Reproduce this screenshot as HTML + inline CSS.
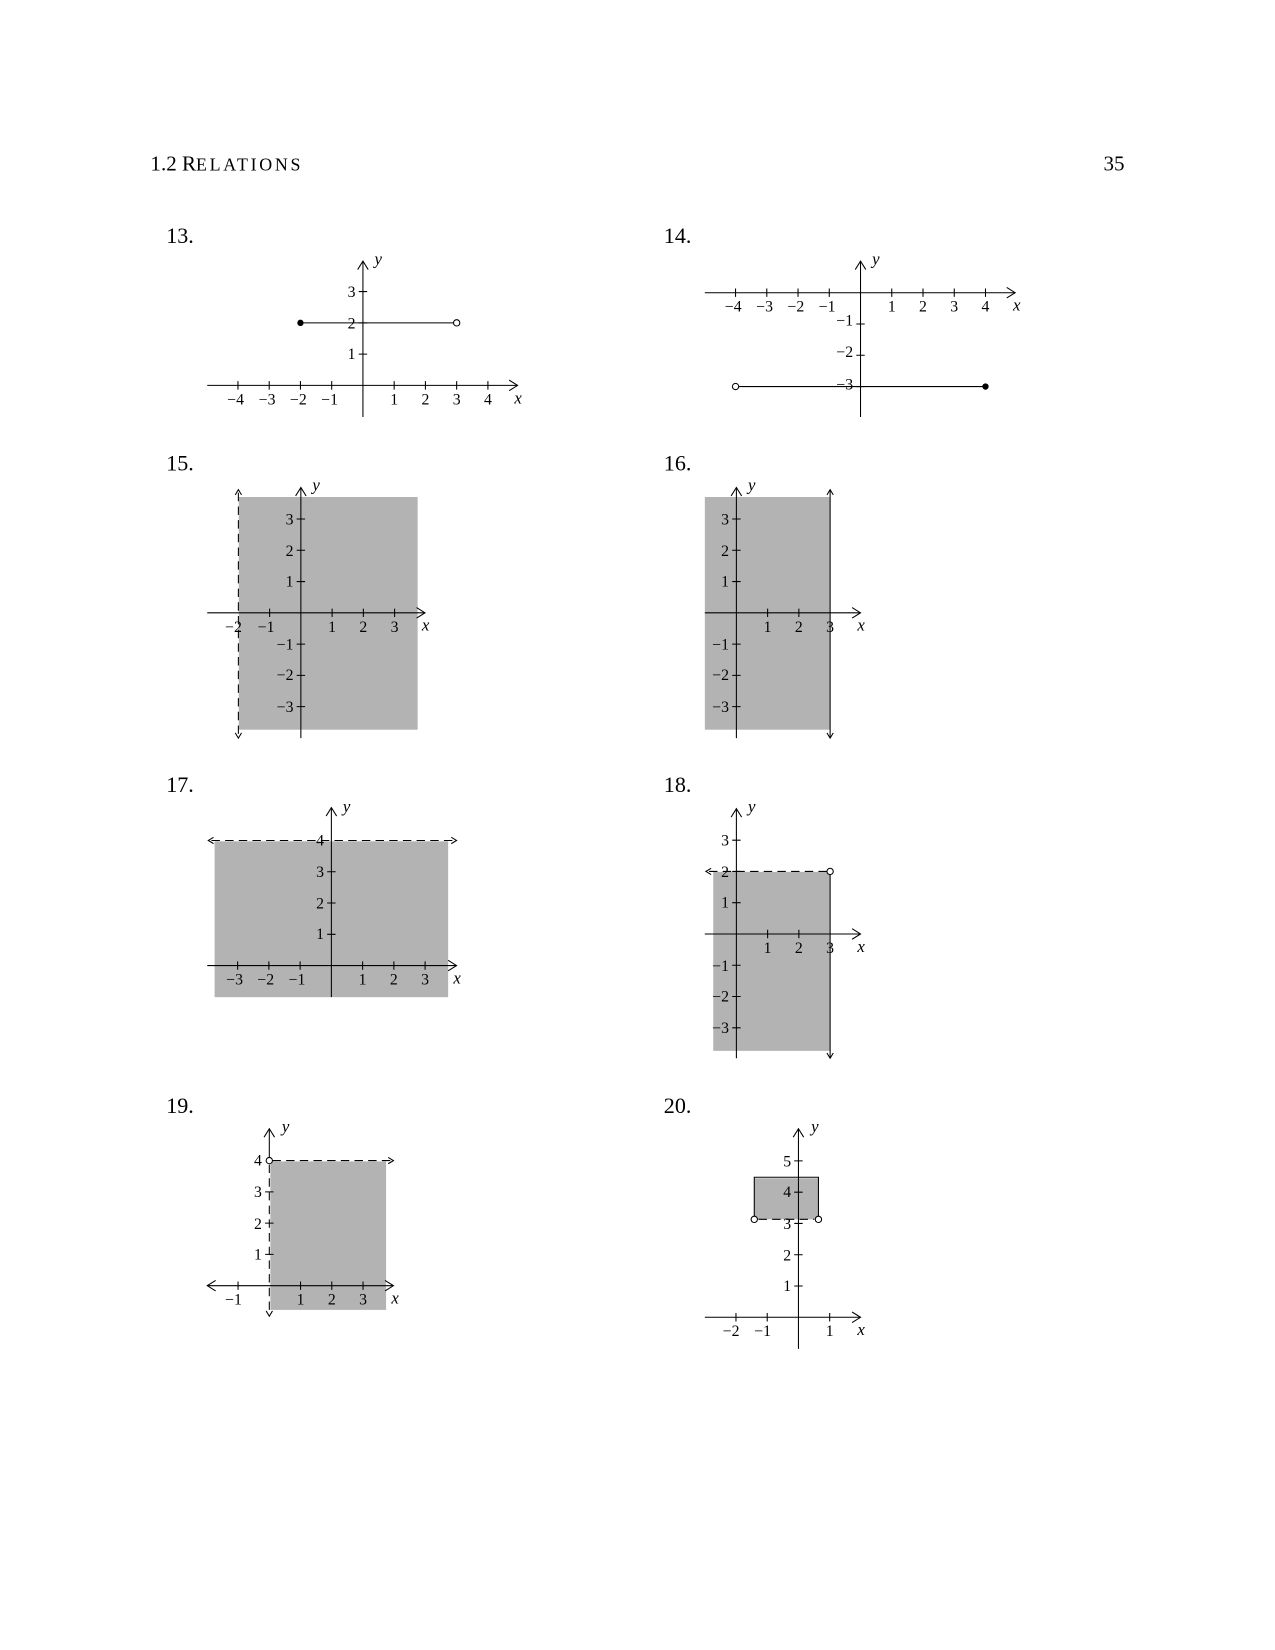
<!DOCTYPE html>
<html><head><meta charset="utf-8"><style>
html,body{margin:0;padding:0;background:#fff}
svg{display:block}
text{font-family:"Liberation Serif",serif;fill:#000}
.tx{font-size:15px;text-anchor:middle}
.ty{font-size:15px;text-anchor:end}
.v{font-size:16px;font-style:italic}
.n{font-size:21px}
.ax{stroke:#000;stroke-width:1;fill:none}
.ah{stroke:#000;stroke-width:1;fill:none}
.dash{stroke:#000;stroke-width:1;stroke-dasharray:8,5;fill:none}
.sh{fill:#b3b3b3}
</style></head><body>
<svg width="1275" height="1650" viewBox="0 0 1212 1567" preserveAspectRatio="none" xmlns="http://www.w3.org/2000/svg">
<text x="143" y="162" style="font-size:20px">1.2 R<tspan style="font-size:17px;letter-spacing:2.6px">ELATIONS</tspan></text>
<text x="1069" y="162" text-anchor="end" style="font-size:20px">35</text>

<!-- 13 -->
<text class="n" x="158" y="231">13.</text>
<g>
<line class="ax" x1="197" y1="366" x2="492" y2="366"/><polyline class="ah" points="484,361 492,366 484,371"/>
<line class="ax" x1="345" y1="396" x2="345" y2="248"/><polyline class="ah" points="340,256 345,248 350,256"/>
<text class="v" x="489" y="383">x</text><text class="v" x="356" y="251">y</text>
<path class="ax" d="M226.2,362v8M255.9,362v8M285.6,362v8M315.3,362v8M374.7,362v8M404.4,362v8M434.1,362v8M463.8,362v8M341,276.9h8M341,306.6h8M341,336.3h8"/>
<text class="tx" x="224" y="384">−4</text><text class="tx" x="253.9" y="384">−3</text><text class="tx" x="283.6" y="384">−2</text><text class="tx" x="313.3" y="384">−1</text>
<text class="tx" x="374.7" y="384">1</text><text class="tx" x="404.4" y="384">2</text><text class="tx" x="434.1" y="384">3</text><text class="tx" x="463.8" y="384">4</text>
<text class="ty" x="338" y="282">3</text><text class="ty" x="338" y="312">2</text><text class="ty" x="338" y="341">1</text>
<line class="ax" x1="285.6" y1="306.6" x2="434.1" y2="306.6"/>
<circle cx="285.6" cy="306.6" r="3" fill="#000"/><circle cx="434.1" cy="306.6" r="3" fill="#fff" stroke="#000"/>
</g>

<!-- 14 -->
<text class="n" x="631" y="231">14.</text>
<g>
<line class="ax" x1="670" y1="278" x2="965" y2="278"/><polyline class="ah" points="957,273 965,278 957,283"/>
<line class="ax" x1="818" y1="396" x2="818" y2="248"/><polyline class="ah" points="813,256 818,248 823,256"/>
<text class="v" x="963" y="295">x</text><text class="v" x="829" y="251">y</text>
<path class="ax" d="M699.2,274v8M728.9,274v8M758.6,274v8M788.3,274v8M847.7,274v8M877.4,274v8M907.1,274v8M936.8,274v8M814,307.7h8M814,337.4h8M814,367.1h8"/>
<text class="tx" x="697" y="296">−4</text><text class="tx" x="726.9" y="296">−3</text><text class="tx" x="756.6" y="296">−2</text><text class="tx" x="786.3" y="296">−1</text>
<text class="tx" x="847.7" y="296">1</text><text class="tx" x="877.4" y="296">2</text><text class="tx" x="907.1" y="296">3</text><text class="tx" x="936.8" y="296">4</text>
<text class="ty" x="811" y="309">−1</text><text class="ty" x="811" y="339">−2</text><text class="ty" x="811" y="370">−3</text>
<line class="ax" x1="699.2" y1="367.1" x2="936.8" y2="367.1"/>
<circle cx="699.2" cy="367.1" r="3" fill="#fff" stroke="#000"/><circle cx="936.8" cy="367.1" r="3" fill="#000"/>
</g>

<!-- 15 -->
<text class="n" x="158" y="447">15.</text>
<g>
<rect class="sh" x="227" y="472" width="170" height="221"/>
<line class="dash" x1="226.6" y1="468" x2="226.6" y2="698"/>
<polyline class="ah" points="223.6,470 226.6,465 229.6,470"/><polyline class="ah" points="223.6,696 226.6,701 229.6,696"/>
<line class="ax" x1="197" y1="582" x2="404" y2="582"/><polyline class="ah" points="396,577 404,582 396,587"/>
<line class="ax" x1="286" y1="701" x2="286" y2="463"/><polyline class="ah" points="281,471 286,463 291,471"/>
<text class="v" x="401" y="599">x</text><text class="v" x="297" y="466">y</text>
<path class="ax" d="M256.3,578v8M315.7,578v8M345.4,578v8M375.1,578v8M282,492.9h8M282,522.6h8M282,552.3h8M282,611.7h8M282,641.4h8M282,671.1h8"/>
<text class="tx" x="222" y="600">−2</text><text class="tx" x="253" y="600">−1</text>
<text class="tx" x="315.7" y="600">1</text><text class="tx" x="345.4" y="600">2</text><text class="tx" x="375.1" y="600">3</text>
<text class="ty" x="279" y="498">3</text><text class="ty" x="279" y="528">2</text><text class="ty" x="279" y="557">1</text>
<text class="ty" x="279" y="617">−1</text><text class="ty" x="279" y="646">−2</text><text class="ty" x="279" y="676">−3</text>
</g>

<!-- 16 -->
<text class="n" x="631" y="447">16.</text>
<g>
<rect class="sh" x="670" y="472" width="119" height="221"/>
<line class="ax" x1="789.1" y1="466" x2="789.1" y2="700"/>
<polyline class="ah" points="786.1,470 789.1,465 792.1,470"/><polyline class="ah" points="786.1,696 789.1,701 792.1,696"/>
<line class="ax" x1="670" y1="582" x2="818" y2="582"/><polyline class="ah" points="810,577 818,582 810,587"/>
<line class="ax" x1="700" y1="701" x2="700" y2="463"/><polyline class="ah" points="695,471 700,463 705,471"/>
<text class="v" x="815" y="599">x</text><text class="v" x="711" y="466">y</text>
<path class="ax" d="M729.7,578v8M759.4,578v8M696,492.9h8M696,522.6h8M696,552.3h8M696,611.7h8M696,641.4h8M696,671.1h8"/>
<text class="tx" x="729.7" y="600">1</text><text class="tx" x="759.4" y="600">2</text><text class="tx" x="789.1" y="600">3</text>
<text class="ty" x="693" y="498">3</text><text class="ty" x="693" y="528">2</text><text class="ty" x="693" y="557">1</text>
<text class="ty" x="693" y="617">−1</text><text class="ty" x="693" y="646">−2</text><text class="ty" x="693" y="676">−3</text>
</g>

<!-- 17 -->
<text class="n" x="158" y="752">17.</text>
<g>
<rect class="sh" x="204" y="799" width="222" height="148"/>
<line class="dash" x1="201" y1="798.2" x2="431" y2="798.2"/>
<polyline class="ah" points="203,795.2 198,798.2 203,801.2"/><polyline class="ah" points="429,795.2 434,798.2 429,801.2"/>
<line class="ax" x1="197" y1="917" x2="434" y2="917"/><polyline class="ah" points="426,912 434,917 426,922"/>
<line class="ax" x1="315" y1="947" x2="315" y2="767"/><polyline class="ah" points="310,775 315,767 320,775"/>
<text class="v" x="431" y="934">x</text><text class="v" x="326" y="771">y</text>
<path class="ax" d="M225.9,913v8M255.6,913v8M285.3,913v8M344.7,913v8M374.4,913v8M404.1,913v8M311,827.9h8M311,857.6h8M311,887.3h8"/>
<text class="tx" x="223" y="935">−3</text><text class="tx" x="252.6" y="935">−2</text><text class="tx" x="282.3" y="935">−1</text>
<text class="tx" x="344.7" y="935">1</text><text class="tx" x="374.4" y="935">2</text><text class="tx" x="404.1" y="935">3</text>
<text class="ty" x="308" y="803">4</text><text class="ty" x="308" y="833">3</text><text class="ty" x="308" y="863">2</text><text class="ty" x="308" y="892">1</text>
</g>

<!-- 18 -->
<text class="n" x="631" y="752">18.</text>
<g>
<rect class="sh" x="678" y="828" width="111" height="170"/>
<line class="dash" x1="674" y1="827.6" x2="786" y2="827.6"/>
<polyline class="ah" points="676,824.6 671,827.6 676,830.6"/>
<line class="ax" x1="789.1" y1="830.6" x2="789.1" y2="1005"/><polyline class="ah" points="786.1,1000 789.1,1005 792.1,1000"/>
<circle cx="789.1" cy="827.6" r="3" fill="#fff" stroke="#000"/>
<line class="ax" x1="670" y1="887" x2="818" y2="887"/><polyline class="ah" points="810,882 818,887 810,892"/>
<line class="ax" x1="700" y1="1005" x2="700" y2="768"/><polyline class="ah" points="695,776 700,768 705,776"/>
<text class="v" x="815" y="904">x</text><text class="v" x="711" y="771">y</text>
<path class="ax" d="M729.7,883v8M759.4,883v8M696,797.9h8M696,827.6h8M696,857.3h8M696,916.7h8M696,946.4h8M696,976.1h8"/>
<text class="tx" x="729.7" y="905">1</text><text class="tx" x="759.4" y="905">2</text><text class="tx" x="789.1" y="905">3</text>
<text class="ty" x="693" y="803">3</text><text class="ty" x="693" y="833">2</text><text class="ty" x="693" y="862">1</text>
<text class="ty" x="693" y="922">−1</text><text class="ty" x="693" y="951">−2</text><text class="ty" x="693" y="981">−3</text>
</g>

<!-- 19 -->
<text class="n" x="158" y="1057">19.</text>
<g>
<rect class="sh" x="257" y="1103" width="110" height="141"/>
<line class="dash" x1="259" y1="1102.2" x2="371" y2="1102.2"/>
<polyline class="ah" points="369,1099.2 374,1102.2 369,1105.2"/>
<line class="dash" x1="256" y1="1106" x2="256" y2="1248"/>
<polyline class="ah" points="253,1245 256,1250 259,1245"/>
<line class="ax" x1="256" y1="1099" x2="256" y2="1072"/><polyline class="ah" points="251,1080 256,1072 261,1080"/>
<circle cx="256" cy="1102.2" r="3" fill="#fff" stroke="#000"/>
<line class="ax" x1="197" y1="1221" x2="374" y2="1221"/>
<polyline class="ah" points="205,1216 197,1221 205,1226"/><polyline class="ah" points="366,1216 374,1221 366,1226"/>
<text class="v" x="372" y="1238">x</text><text class="v" x="268" y="1075">y</text>
<path class="ax" d="M226.3,1217v8M285.7,1217v8M315.4,1217v8M345.1,1217v8M252,1131.9h8M252,1161.6h8M252,1191.3h8"/>
<text class="tx" x="222" y="1239">−1</text>
<text class="tx" x="285.7" y="1239">1</text><text class="tx" x="315.4" y="1239">2</text><text class="tx" x="345.1" y="1239">3</text>
<text class="ty" x="249" y="1107">4</text><text class="ty" x="249" y="1137">3</text><text class="ty" x="249" y="1167">2</text><text class="ty" x="249" y="1196">1</text>
</g>

<!-- 20 -->
<text class="n" x="631" y="1057">20.</text>
<g>
<rect class="sh" x="717" y="1119" width="61" height="39"/>
<polyline class="ax" points="717,1155 717,1118 778,1118 778,1155" stroke="#555"/>
<line class="dash" x1="721" y1="1158" x2="774" y2="1158"/>
<circle cx="717" cy="1158" r="3" fill="#fff" stroke="#000"/><circle cx="778" cy="1158" r="3" fill="#fff" stroke="#000"/>
<line class="ax" x1="670" y1="1251" x2="818" y2="1251"/><polyline class="ah" points="810,1246 818,1251 810,1256"/>
<line class="ax" x1="759" y1="1281" x2="759" y2="1072"/><polyline class="ah" points="754,1080 759,1072 764,1080"/>
<text class="v" x="815" y="1268">x</text><text class="v" x="771" y="1075">y</text>
<path class="ax" d="M699.6,1247v8M729.3,1247v8M788.7,1247v8M755,1221.3h8M755,1191.6h8M755,1161.9h8M755,1132.2h8M755,1102.5h8"/>
<text class="tx" x="695" y="1269">−2</text><text class="tx" x="725" y="1269">−1</text><text class="tx" x="788.7" y="1269">1</text>
<text class="ty" x="752" y="1108">5</text><text class="ty" x="752" y="1137">4</text><text class="ty" x="752" y="1167">3</text><text class="ty" x="752" y="1197">2</text><text class="ty" x="752" y="1226">1</text>
</g>
</svg>
</body></html>
